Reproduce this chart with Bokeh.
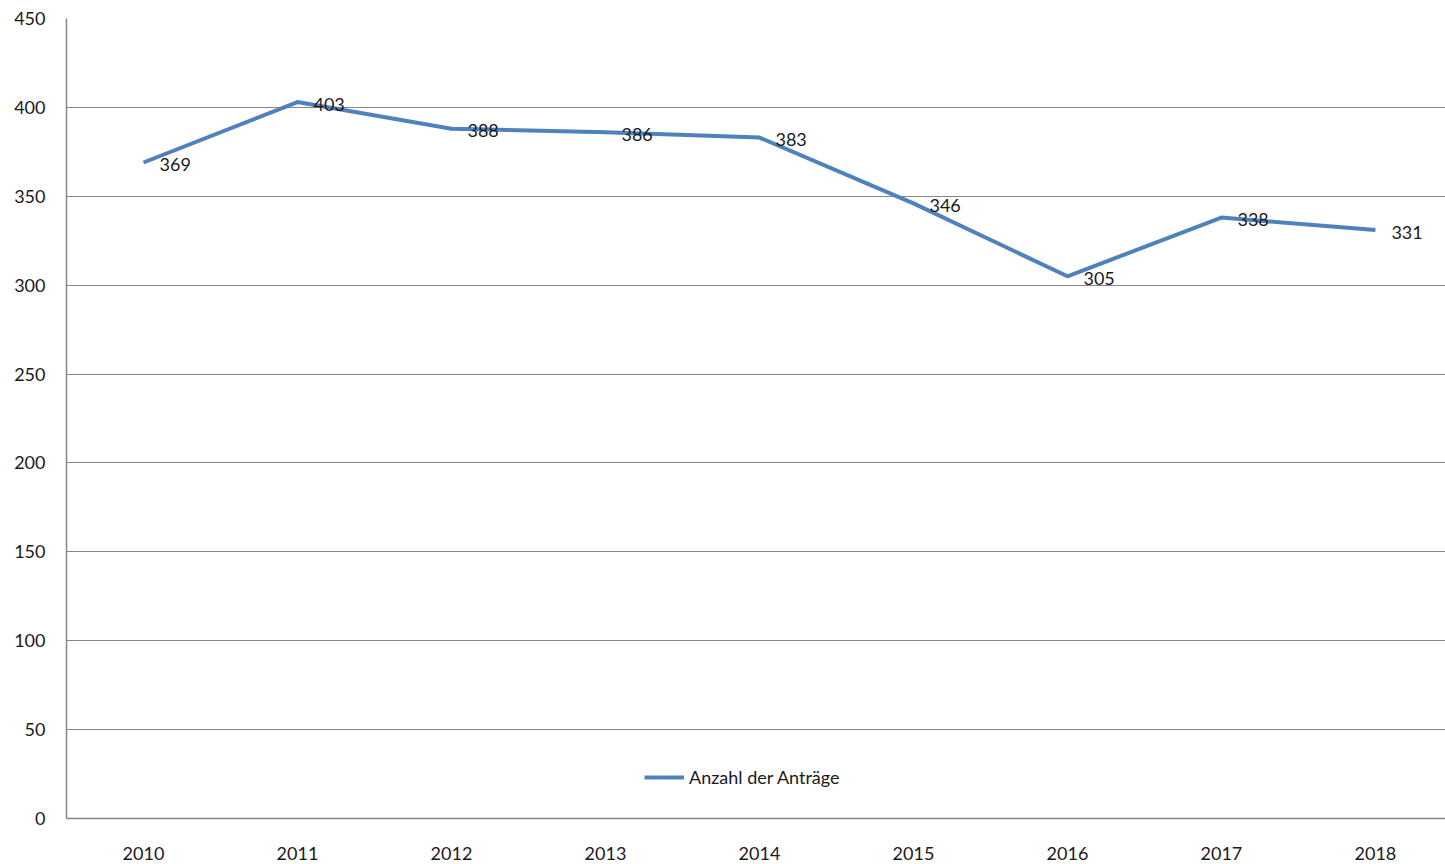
from bokeh.plotting import figure
from bokeh.models import Range1d, FixedTicker, Legend, LegendItem, ColumnDataSource
from bokeh.embed import file_html
from bokeh.resources import INLINE
from bokeh.core.properties import value

years = [2010, 2011, 2012, 2013, 2014, 2015, 2016, 2017, 2018]
antraege = [369, 403, 388, 386, 383, 346, 305, 338, 331]
y_ticks = [0, 50, 100, 150, 200, 250, 300, 350, 400, 450]
series_name = "Anzahl der Anträge"

FONT = "Lato"
TXT = "#1a1a1a"
GRID = "#878787"
BLUE = "#4F81BD"

src = ColumnDataSource(dict(x=years, y=antraege, lbl=[str(v) for v in antraege]))

p = figure(width=1445, height=864, output_backend="svg", toolbar_location=None,
           x_range=Range1d(2009.5, 2018.455), y_range=Range1d(0, 450),
           min_border_left=66, min_border_top=18, min_border_bottom=46, min_border_right=0)
p.outline_line_color = None
p.background_fill_color = "white"

p.xaxis.ticker = FixedTicker(ticks=years)
p.xaxis.major_label_overrides = {y: str(y) for y in years}
p.yaxis.ticker = FixedTicker(ticks=y_ticks)
for ax in (p.xaxis, p.yaxis):
    ax.axis_line_color = GRID
    ax.axis_line_width = 1.5
    ax.major_tick_line_color = None
    ax.minor_tick_line_color = None
    ax.major_label_text_font = FONT
    ax.major_label_text_font_size = "18px"
    ax.major_label_text_color = TXT
p.yaxis.major_label_standoff = 15
p.xaxis.major_label_standoff = 22

p.xgrid.grid_line_color = None
p.ygrid.ticker = FixedTicker(ticks=y_ticks)
p.ygrid.grid_line_color = GRID
p.ygrid.grid_line_width = 1.2

r = p.line("x", "y", source=src, line_color=BLUE, line_width=4)
p.text("x", "y", text="lbl", source=src, x_offset=16, y_offset=2,
       text_font=value(FONT), text_font_size="18px", text_color=TXT,
       text_baseline="middle", text_align="left")

legend = Legend(items=[LegendItem(label=series_name, renderers=[r])],
                location=(578, 30), padding=0, margin=0, spacing=0,
                glyph_width=40, glyph_height=20, label_standoff=5,
                border_line_color=None, background_fill_alpha=0,
                label_text_font=FONT, label_text_font_size="18px", label_text_color=TXT)
p.add_layout(legend, "center")

open("out.html", "w").write(file_html(p, INLINE))
